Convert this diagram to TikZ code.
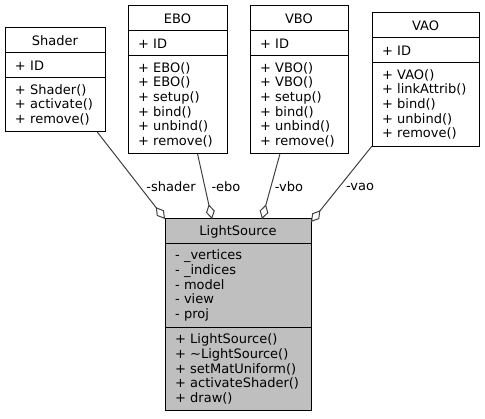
\documentclass[tikz,border=0pt]{standalone}
\usepackage{fontspec}
\setmainfont{DejaVu Sans}
\usetikzlibrary{positioning,arrows.meta}
\definecolor{edgegray}{gray}{0.25}
\definecolor{focusgray}{gray}{0.75}
\newcommand{\umlfont}{\fontsize{13}{14.67}\selectfont}
\tikzset{
  box/.style={draw, line width=1pt, outer sep=0pt, inner xsep=10pt, inner ysep=0pt, font=\umlfont, text width=#1pt, fill=white},
  head/.style={align=center, minimum height=25pt},
  rows/.style={align=left, minimum height=#1*14.67pt+10pt},
  aggr/.style={draw=edgegray, line width=1pt, -{Diamond[open, length=15pt, width=9pt]}},
  role/.style={font=\umlfont, inner sep=0pt}
}
\begin{document}
\begin{tikzpicture}[x=1pt, y=-1pt]
\useasboundingbox (0,0) rectangle (485,419);
% Shader
\node[box=80, head, anchor=north west] (shader) at (5,28) {Shader};
\node[box=80, rows=1, below=0pt of shader] (shaderA) {+~ID};
\node[box=80, rows=3, below=0pt of shaderA] (shaderM) {+~Shader()\\+~activate()\\+~remove()};
% EBO
\node[box=79, head, anchor=north west] (ebo) at (128,6) {EBO};
\node[box=79, rows=1, below=0pt of ebo] (eboA) {+~ID};
\node[box=79, rows=6, below=0pt of eboA] (eboM) {+~EBO()\\+~EBO()\\+~setup()\\+~bind()\\+~unbind()\\+~remove()};
% VBO
\node[box=78, head, anchor=north west] (vbo) at (250,6) {VBO};
\node[box=78, rows=1, below=0pt of vbo] (vboA) {+~ID};
\node[box=78, rows=6, below=0pt of vboA] (vboM) {+~VBO()\\+~VBO()\\+~setup()\\+~bind()\\+~unbind()\\+~remove()};
% VAO
\node[box=87, head, anchor=north west] (vao) at (372,13) {VAO};
\node[box=87, rows=1, below=0pt of vao] (vaoA) {+~ID};
\node[box=87, rows=5, below=0pt of vaoA] (vaoM) {+~VAO()\\+~linkAttrib()\\+~bind()\\+~unbind()\\+~remove()};
% LightSource
\node[box=126, head, fill=focusgray, anchor=north west] (ls) at (165,219) {LightSource};
\node[box=126, rows=5, fill=focusgray, below=0pt of ls] (lsA) {-~\_vertices\\-~\_indices\\-~model\\-~view\\-~proj};
\node[box=126, rows=5, fill=focusgray, below=0pt of lsA] (lsM) {+~LightSource()\\+~\textasciitilde LightSource()\\+~setMatUniform()\\+~activateShader()\\+~draw()};
% aggregations
\draw[aggr] ([xshift=-8pt]shaderM.south east) -- (ls.north west);
\draw[aggr] ([xshift=20pt]eboM.south) -- ([xshift=-26pt]ls.north);
\draw[aggr] ([xshift=-19pt]vboM.south) -- ([xshift=24pt]ls.north);
\draw[aggr] (vaoM.south west) -- ([yshift=-3pt]ls.north east);
\node[role] (lshader) at (171,187) {-shader};
\node[role] (lebo) at (226,187) {-ebo};
\node[role] (lvbo) at (289,187) {-vbo};
\node[role] (lvao) at (360,187) {-vao};
\end{tikzpicture}
\end{document}
